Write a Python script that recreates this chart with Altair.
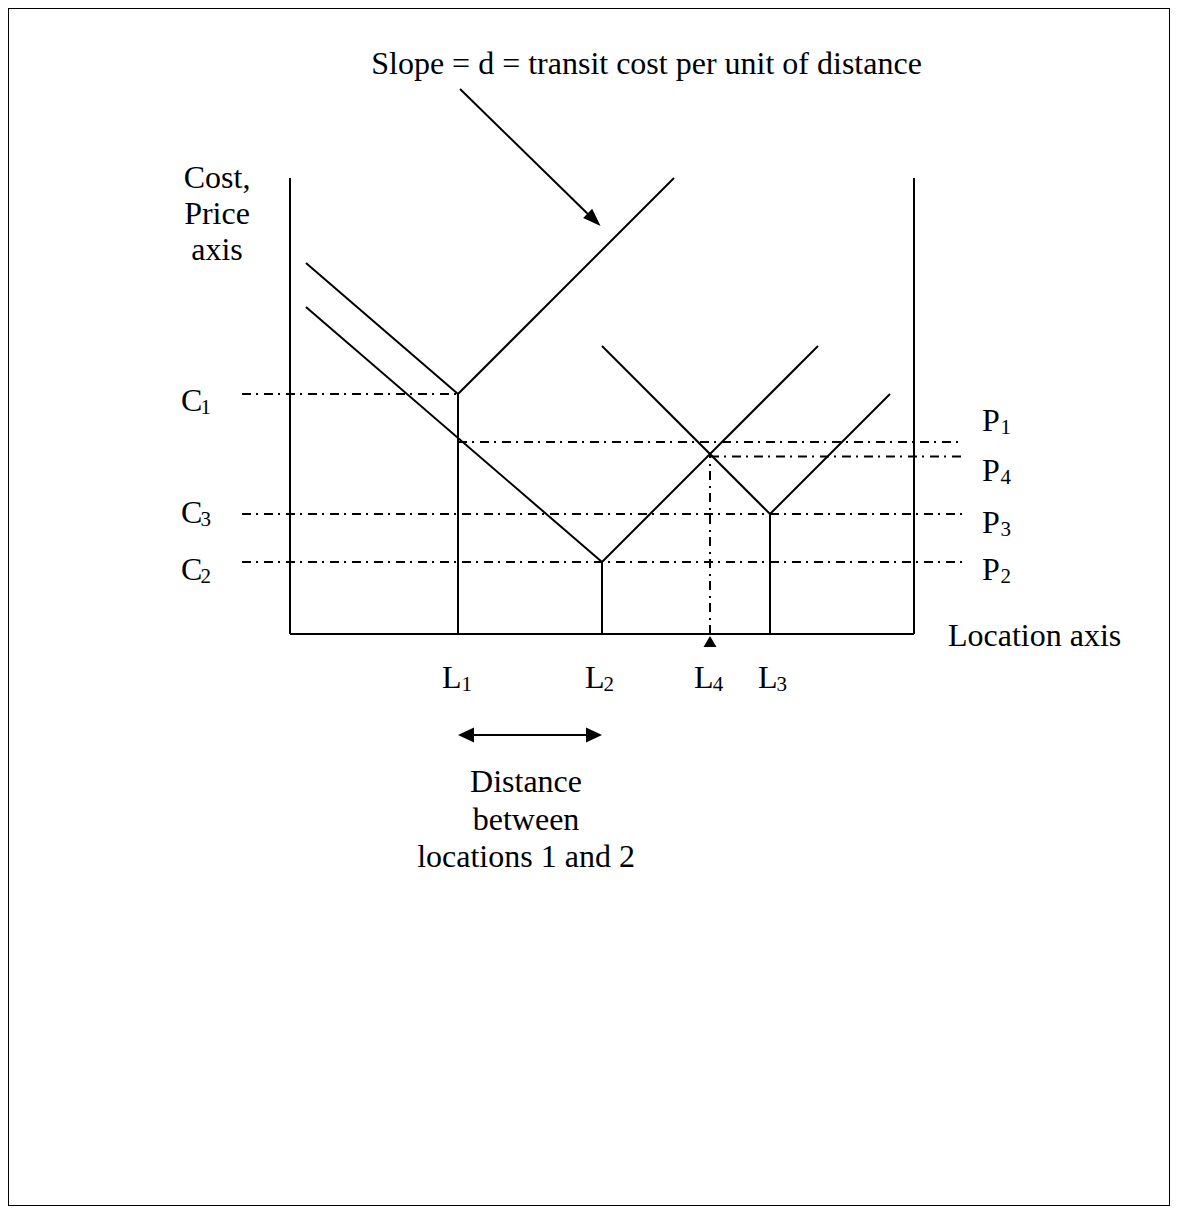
import altair as alt
import pandas as pd

# Diagram units: x = location, y = cost/price (1 unit = 12 px on the reference)
# ---- solid segments (x, y, x2, y2)
solid_x = [0, 0, 52, 14, 26, 40, 1.33, 14, 1.33, 26, 26, 40, 14.17, 14.5]
solid_y = [0, 0, 0, 0, 0, 0, 30.92, 20, 27.25, 6, 24, 10, 45.42, -8.42]
solid_x2 = [0, 52, 52, 14, 26, 40, 14, 32, 26, 44, 40, 50, 25.42, 25.5]
solid_y2 = [38, 0, 38, 20, 6, 10, 20, 38, 6, 24, 10, 20, 34.42, -8.42]

# ---- dash-dot reference lines
dd_x = [-4, 14, 35, -4, -4, 35]
dd_y = [20, 16, 14.8, 10, 6, 0]
dd_x2 = [14, 56, 56, 56, 56, 35]
dd_y2 = [20, 16, 14.8, 10, 6, 15]

# ---- arrow heads
head_x = [25.88, 14, 26, 35]
head_y = [34.0, -8.42, -8.42, -0.17]
head_angle = [44.2, 180, 0, 270]
head_shape = ["M0,0L-2,-0.72L-2,0.72Z", "M0,0L-2,-0.94L-2,0.94Z",
              "M0,0L-2,-0.94L-2,0.94Z", "M0,0L-2,-1.18L-2,1.18Z"]
head_size = [324, 256, 256, 121]

# ---- centered texts
ctext = ["Slope = d = transit cost per unit of distance", "Cost,", "Price", "axis",
         "Distance", "between", "locations 1 and 2"]
ctext_x = [29.71, -6.08, -6.08, -6.08, 19.67, 19.67, 19.67]
ctext_y = [46.67, 37.17, 34.17, 31.17, -13.17, -16.33, -19.42]

# ---- left-aligned labels (main letters)
ltext = ["C", "C", "C", "P", "P", "P", "P", "L", "L", "L", "L", "Location axis"]
ltext_x = [-9.08, -9.08, -9.08, 57.67, 57.67, 57.67, 57.67, 12.67, 24.58, 33.67, 39.0, 54.83]
ltext_y = [18.58, 9.25, 4.5, 16.92, 12.75, 8.42, 4.5, -4.5, -4.5, -4.5, -4.5, -1.0]

# ---- subscripts
sub = ["1", "3", "2", "1", "4", "3", "2", "1", "2", "4", "3"]
sub_x = [-7.45, -7.45, -7.45, 59.2, 59.2, 59.2, 59.2, 14.3, 26.13, 35.22, 40.55]
sub_y = [18.33, 9.0, 4.25, 16.67, 12.5, 8.17, 4.25, -4.75, -4.75, -4.75, -4.75]

FONT = "Liberation Serif"

xs = alt.Scale(domain=[-23.5, 73.333], nice=False, zero=False)
ys = alt.Scale(domain=[-47.667, 52.167], nice=False, zero=False)

solid = pd.DataFrame({"x": solid_x, "y": solid_y, "x2": solid_x2, "y2": solid_y2})
dd = pd.DataFrame({"x": dd_x, "y": dd_y, "x2": dd_x2, "y2": dd_y2})
heads = pd.DataFrame({"x": head_x, "y": head_y, "ang": head_angle,
                      "shape": head_shape, "size": head_size})
ct = pd.DataFrame({"x": ctext_x, "y": ctext_y, "t": ctext})
lt = pd.DataFrame({"x": ltext_x, "y": ltext_y, "t": ltext})
st = pd.DataFrame({"x": sub_x, "y": sub_y, "t": sub})

X = alt.X("x:Q", scale=xs, axis=None)
Y = alt.Y("y:Q", scale=ys, axis=None)

solid_layer = alt.Chart(solid).mark_rule(color="black", strokeWidth=2).encode(
    x=X, y=Y, x2="x2:Q", y2="y2:Q")
dd_layer = alt.Chart(dd).mark_rule(color="black", strokeWidth=2,
                                   strokeDash=[9, 5, 2, 6]).encode(
    x=X, y=Y, x2="x2:Q", y2="y2:Q")
head_layer = alt.Chart(heads).mark_point(filled=True, color="black", opacity=1,
                                         strokeWidth=0).encode(
    x=X, y=Y,
    angle=alt.Angle("ang:Q", scale=None),
    shape=alt.Shape("shape:N", scale=None),
    size=alt.Size("size:Q", scale=None))
ct_layer = alt.Chart(ct).mark_text(font=FONT, fontSize=32, align="center",
                                   baseline="alphabetic", color="black").encode(
    x=X, y=Y, text="t:N")
lt_layer = alt.Chart(lt).mark_text(font=FONT, fontSize=32, align="left",
                                   baseline="alphabetic", color="black").encode(
    x=X, y=Y, text="t:N")
st_layer = alt.Chart(st).mark_text(font=FONT, fontSize=21, align="left",
                                   baseline="alphabetic", color="black").encode(
    x=X, y=Y, text="t:N")

chart = alt.layer(solid_layer, dd_layer, head_layer, ct_layer, lt_layer, st_layer).properties(
    width=1162, height=1198, padding=0, autosize=alt.AutoSizeParams(type="none"),
    background="white"
).configure_view(stroke="black", strokeWidth=2)

chart.save("out.html", embed_options={"renderer": "svg", "actions": False})
